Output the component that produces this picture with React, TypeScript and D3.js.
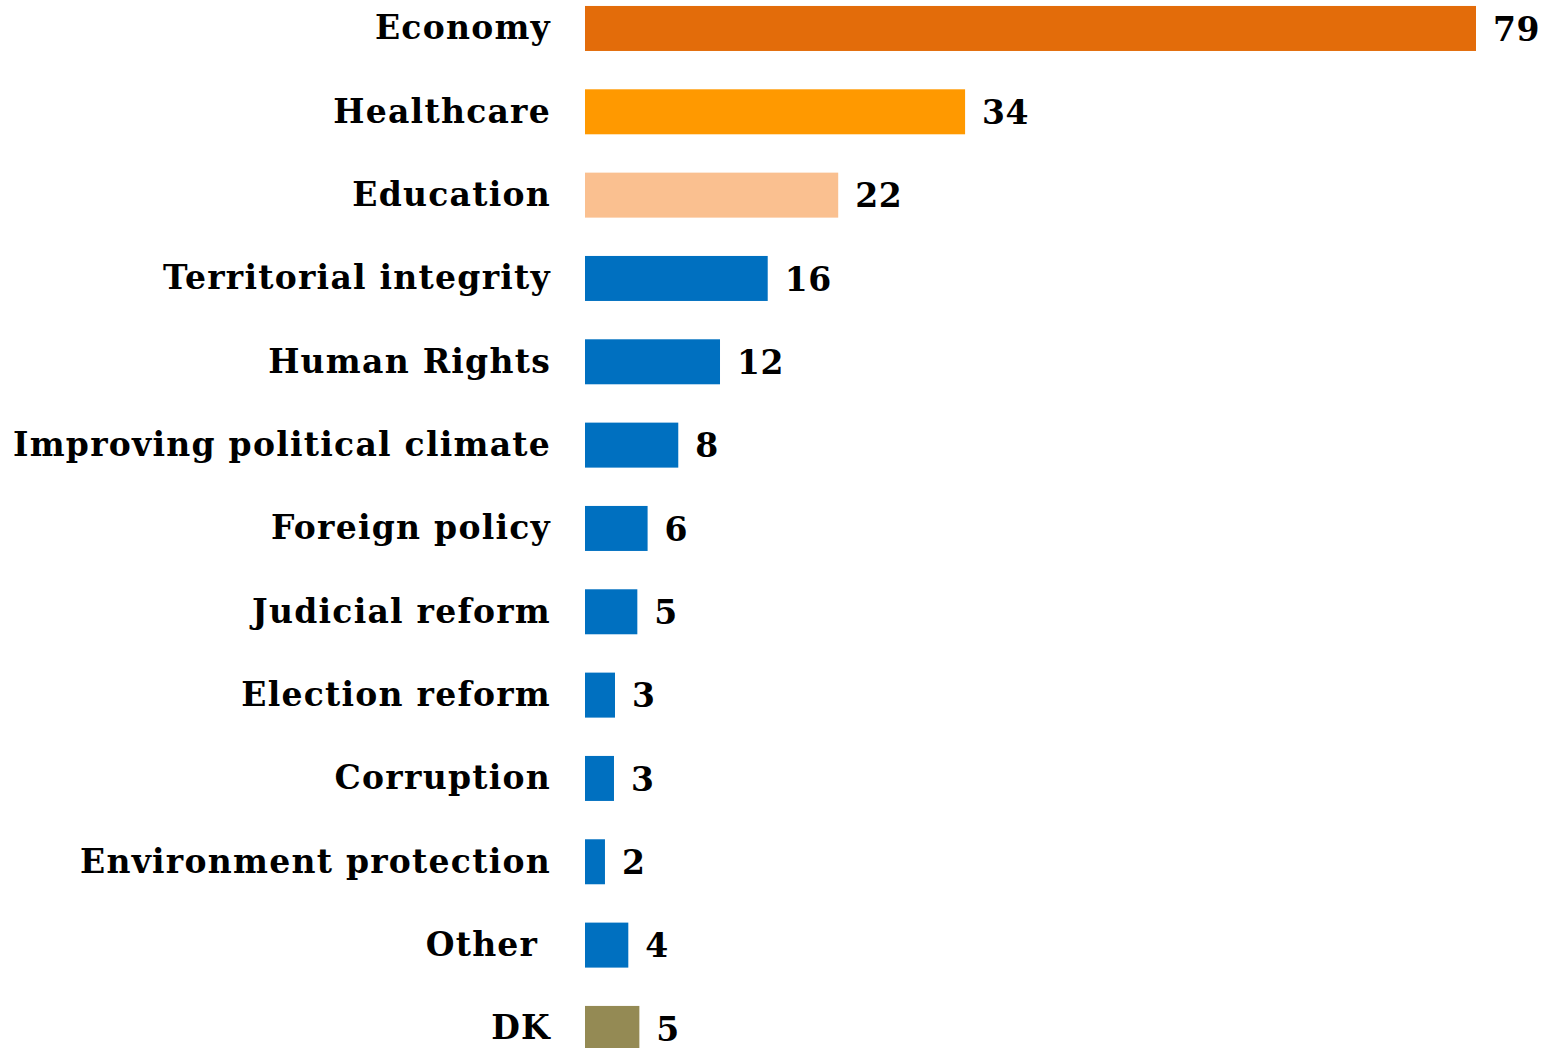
import React from "react";
import * as d3 from "d3";

const categories = [
  "Economy",
  "Healthcare",
  "Education",
  "Territorial integrity",
  "Human Rights",
  "Improving political climate",
  "Foreign policy",
  "Judicial reform",
  "Election reform",
  "Corruption",
  "Environment protection",
  "Other ",
  "DK",
];
// values; labels show the rounded percent
const values = [79, 33.7, 22.45, 16.2, 11.97, 8.27, 5.55, 4.64, 2.66, 2.57, 1.77, 3.84, 4.82];
const colors = [
  "#E36C0A",
  "#FF9900",
  "#FAC090",
  "#0070C0",
  "#0070C0",
  "#0070C0",
  "#0070C0",
  "#0070C0",
  "#0070C0",
  "#0070C0",
  "#0070C0",
  "#0070C0",
  "#948A54",
];

const W = 1545;
const H = 1048;
const FONT = "'DejaVu Serif', serif";

export default function App() {
  const x = d3.scaleLinear().domain([0, 79]).range([585, 1476]);
  const y = d3
    .scaleBand<string>()
    .domain(categories)
    .range([-13.2, 1070.1])
    .paddingInner(0.46)
    .paddingOuter(0.23);

  return (
    <svg
      width={W}
      height={H}
      style={{ position: "absolute", left: 0, top: 0, background: "#fff" }}
    >
      {categories.map((c, i) => {
        const y0 = y(c) as number;
        const bw = y.bandwidth();
        const cy = y0 + bw / 2;
        return (
          <g key={c}>
            <rect
              x={x(0)}
              y={y0}
              width={x(values[i]) - x(0)}
              height={bw}
              fill={colors[i]}
            />
            <text
              x={551}
              y={cy}
              dy="0.33em"
              textAnchor="end"
              fontFamily={FONT}
              fontWeight="bold"
              fontSize={33}
              letterSpacing={1.25}
              fill="#000"
              style={{ whiteSpace: "pre" }}
            >
              {c}
            </text>
            <text
              x={x(values[i]) + 17}
              y={cy}
              dy="0.37em"
              fontFamily={FONT}
              fontWeight="bold"
              fontSize={33}
              letterSpacing={0.5}
              fill="#000"
            >
              {Math.round(values[i])}
            </text>
          </g>
        );
      })}
    </svg>
  );
}
